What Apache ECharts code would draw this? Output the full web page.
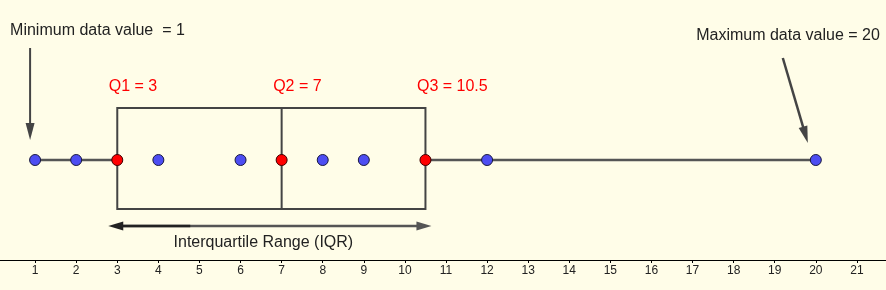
<!DOCTYPE html>
<html><head><meta charset="utf-8">
<script src="https://cdn.jsdelivr.net/npm/echarts@6/dist/echarts.min.js"></script>
<style>html,body{margin:0;padding:0;background:#fffde8;}#c{width:886px;height:290px;}</style>
</head><body><div id="c"></div><script>
const tickLabels = ['1','2','3','4','5','6','7','8','9','10','11','12','13','14','15','16','17','18','19','20','21'];
const dataPoints = [1, 2, 4, 6, 8, 9, 12, 20];
const quartileNames = ['Q1', 'Q2', 'Q3'];
const quartiles = [3, 7, 10.5];
const minValue = 1;
const maxValue = 20;
const minText = 'Minimum data value  = 1';
const maxText = 'Maximum data value = 20';
const iqrText = 'Interquartile Range (IQR)';

const FONT = '"Liberation Sans", Arial, sans-serif';
const chart = echarts.init(document.getElementById('c'), null, {renderer: 'canvas'});

function arrow(x1, y1, x2, y2, headLen, headHalf, color, width) {
  const dx = x2 - x1, dy = y2 - y1, L = Math.sqrt(dx*dx + dy*dy);
  const ux = dx / L, uy = dy / L;
  const bx = x2 - ux * headLen, by = y2 - uy * headLen;
  return [
    {type: 'line', shape: {x1: x1, y1: y1, x2: bx + ux * 2, y2: by + uy * 2}, style: {stroke: color, lineWidth: width}},
    {type: 'polygon', shape: {points: [[x2, y2], [bx - uy * headHalf, by + ux * headHalf], [bx + uy * headHalf, by - ux * headHalf]]}, style: {fill: color}}
  ];
}

const option = {
  backgroundColor: '#fffde8',
  animation: false,
  grid: {left: -6, right: -12, top: 0, bottom: 30, containLabel: false, outerBoundsMode: 'none'},
  xAxis: {
    type: 'value', min: 0, max: 22, interval: 1,
    splitLine: {show: false},
    axisLine: {show: true, onZero: false, lineStyle: {color: '#000', width: 1}},
    axisTick: {show: true, length: 3, lineStyle: {color: '#000'}},
    axisLabel: {
      show: true, margin: 5, color: '#222', fontSize: 12, fontFamily: FONT,
      formatter: function (v) { return tickLabels.indexOf(String(v)) >= 0 ? String(v) : ''; }
    }
  },
  yAxis: {type: 'value', min: -1, max: 1.6, show: false},
  series: [
    {
      type: 'line', data: [[minValue, 0], [quartiles[0], 0]], symbol: 'none', silent: true,
      lineStyle: {color: '#555', width: 2.5}, z: 1
    },
    {
      type: 'line', data: [[quartiles[2], 0], [maxValue, 0]], symbol: 'none', silent: true,
      lineStyle: {color: '#555', width: 2.5}, z: 1
    },
    {
      type: 'custom', silent: true, z: 1,
      data: [[quartiles[0], quartiles[1], quartiles[2]]],
      encode: {x: [0, 1, 2]},
      renderItem: function (params, api) {
        const a = api.coord([api.value(0), 0]);
        const m = api.coord([api.value(1), 0]);
        const b = api.coord([api.value(2), 0]);
        const top = a[1] - 52, bot = a[1] + 49;
        return {type: 'group', children: [
          {type: 'rect', shape: {x: a[0], y: top, width: b[0] - a[0], height: bot - top},
           style: {fill: 'none', stroke: '#444', lineWidth: 2}},
          {type: 'line', shape: {x1: m[0], y1: top, x2: m[0], y2: bot}, style: {stroke: '#444', lineWidth: 2}}
        ]};
      }
    },
    {
      type: 'custom', silent: true, z: 1,
      data: [[minValue, maxValue, quartiles[0], quartiles[2]]],
      encode: {x: [0, 1, 2, 3]},
      renderItem: function (params, api) {
        const pMin = api.coord([api.value(0), 0]);
        const pMax = api.coord([api.value(1), 0]);
        const pQ1 = api.coord([api.value(2), 0]);
        const pQ3 = api.coord([api.value(3), 0]);
        const y0 = pMin[1];
        const col = '#444';
        let ch = [];
        ch.push({type: 'text', style: {text: minText, x: pMin[0] - 25, y: y0 - 129, fill: '#222',
          font: '16px ' + FONT, align: 'left', verticalAlign: 'middle', textAlign: 'left', textVerticalAlign: 'middle'}});
        ch = ch.concat(arrow(pMin[0] - 5, y0 - 112, pMin[0] - 5, y0 - 20, 17, 4.5, col, 2));
        ch.push({type: 'text', style: {text: maxText, x: pMax[0] + 64, y: y0 - 124, fill: '#222',
          font: '16px ' + FONT, align: 'right', verticalAlign: 'middle', textAlign: 'right', textVerticalAlign: 'middle'}});
        ch = ch.concat(arrow(pMax[0] - 33, y0 - 102, pMax[0] - 8, y0 - 17, 17, 4.5, col, 2.5));
        const yi = y0 + 66;
        const xl = pQ1[0] - 9, xr = pQ3[0] + 6;
        ch.push({type: 'line', shape: {x1: xl + 10, y1: yi, x2: xr - 12, y2: yi}, style: {stroke: '#555', lineWidth: 2.5}});
        ch.push({type: 'line', shape: {x1: xl + 10, y1: yi, x2: xl + 82, y2: yi}, style: {stroke: '#222', lineWidth: 2.5}});
        ch.push({type: 'polygon', shape: {points: [[xl, yi], [xl + 15, yi - 4.5], [xl + 15, yi + 4.5]]}, style: {fill: '#222'}});
        ch.push({type: 'polygon', shape: {points: [[xr, yi], [xr - 15, yi - 4.5], [xr - 15, yi + 4.5]]}, style: {fill: '#555'}});
        ch.push({type: 'text', style: {text: iqrText, x: (pQ1[0] + pQ3[0]) / 2 - 8, y: y0 + 83, fill: '#222',
          font: '16px ' + FONT, align: 'center', verticalAlign: 'middle', textAlign: 'center', textVerticalAlign: 'middle'}});
        return {type: 'group', children: ch};
      }
    },
    {
      type: 'scatter', z: 3, silent: true,
      data: dataPoints.map(function (v) { return [v, 0]; }),
      symbolSize: 11,
      itemStyle: {color: '#4d4df2', borderColor: '#1a1a40', borderWidth: 1, opacity: 1}
    },
    {
      type: 'scatter', z: 3, silent: true,
      data: quartiles.map(function (v, i) { return {value: [v, 0], name: quartileNames[i]}; }),
      symbolSize: 11,
      itemStyle: {color: '#ff0000', borderColor: '#400000', borderWidth: 1, opacity: 1},
      label: {
        show: true, position: [-2.5, -67.5], align: 'left', verticalAlign: 'middle',
        color: '#ff0000', fontSize: 16, fontFamily: FONT,
        formatter: function (p) { return p.name + ' = ' + p.value[0]; }
      }
    }
  ]
};
chart.setOption(option);
</script></body></html>
